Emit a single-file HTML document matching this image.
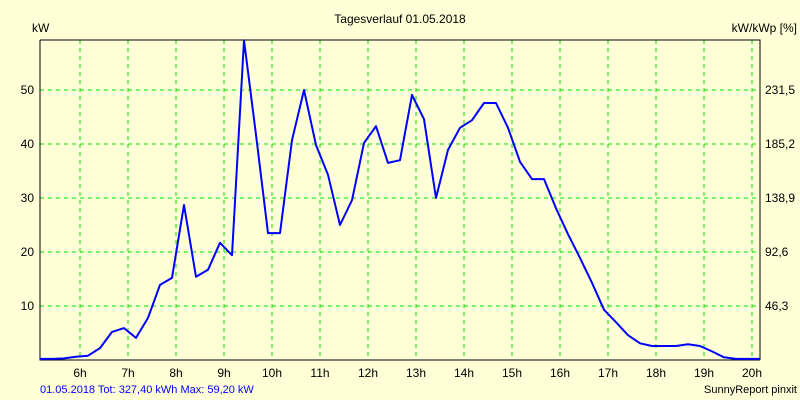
<!DOCTYPE html>
<html><head><meta charset="utf-8"><style>
body{margin:0;background:#ffffdc;}
svg{display:block;font-family:"Liberation Sans",sans-serif;}
</style></head><body>
<svg id="chart" width="800" height="400" viewBox="0 0 800 400">
<rect width="800" height="400" fill="#ffffd8"/>
<text x="400" y="23" text-anchor="middle" font-size="12">Tagesverlauf 01.05.2018</text>
<text x="32" y="32" font-size="12">kW</text>
<text x="797" y="32" text-anchor="end" font-size="12">kW/kWp [%]</text>
<g id="grid"></g>
<g id="axes"></g>
<g id="series"></g>
<text x="40" y="393" font-size="11" fill="#0000ff">01.05.2018 Tot: 327,40 kWh Max: 59,20 kW</text>
<text x="797" y="393" text-anchor="end" font-size="11">SunnyReport pinxit</text>
</svg>
<script>
const hourTicks=[6,7,8,9,10,11,12,13,14,15,16,17,18,19,20];
const yTicks=[10,20,30,40,50];
const rightTicks=["46,3","92,6","138,9","185,2","231,5"];
const startHour=5+10/60;
const stepMin=15;
const power=[0.2,0.2,0.3,0.6,0.8,2.2,5.2,5.9,4.1,7.8,13.9,15.2,28.7,15.4,16.7,21.7,19.4,59.2,41.7,23.5,23.5,40.7,50,39.8,34.3,25,29.6,40.2,43.3,36.5,37,49.1,44.6,30,38.9,43,44.4,47.6,47.6,43,36.7,33.5,33.5,28.1,23.3,18.9,14.3,9.3,7,4.6,3.1,2.6,2.6,2.6,2.9,2.6,1.6,0.5,0.2,0.2,0.2];

const L=40,R=760,T=40,B=360;
const xH=h=>80+(h-6)*48;
const yV=v=>B-v*5.4;
const NS="http://www.w3.org/2000/svg";
function mk(tag,parent,attrs){const e=document.createElementNS(NS,tag);for(const k in attrs)e.setAttribute(k,attrs[k]);parent.appendChild(e);return e;}
const grid=document.getElementById('grid'),axes=document.getElementById('axes'),series=document.getElementById('series');
hourTicks.forEach(h=>{
  const x=xH(h);
  const l=mk('line',grid,{x1:x,x2:x,y1:T,y2:B,stroke:'#00e000','stroke-dasharray':'4,4'});
  
  
  const t=mk('text',axes,{x:x,y:377,'text-anchor':'middle','font-size':12});
  t.textContent=h+'h';
  
  
});
yTicks.forEach((v,i)=>{
  const y=yV(v);
  const l=mk('line',grid,{x1:L,x2:R,y1:y,y2:y,stroke:'#00e000','stroke-dasharray':'4,4'});
  
  
  const t=mk('text',axes,{x:34,y:y+4,'text-anchor':'end','font-size':12});
  t.textContent=v;
  
  
  const t2=mk('text',axes,{x:765,y:y+4,'font-size':12});
  t2.textContent=rightTicks[i];
  
  
});
const frame=mk('path',axes,{d:`M${L},${T}H${R}V${B}M${L},${T}V${B}H${R}`,fill:'none',stroke:'#000','stroke-width':1});


const pts=power.map((v,i)=>xH(startHour+i*stepMin/60).toFixed(1)+','+yV(v).toFixed(1)).join(' ');
const line=mk('polyline',series,{points:pts,fill:'none',stroke:'#0000ff','stroke-width':2,'stroke-linejoin':'round'});


</script>
</body></html>
